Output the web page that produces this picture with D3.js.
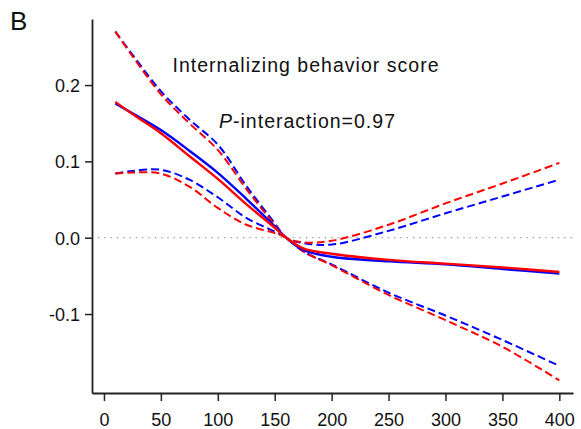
<!DOCTYPE html>
<html>
<head>
<meta charset="utf-8">
<script src="https://cdn.jsdelivr.net/npm/d3@7"></script>
<style>
  html, body { margin: 0; padding: 0; background: #fff; }
  svg { display: block; font-family: "Liberation Sans", Arial, Helvetica, sans-serif; }
</style>
</head>
<body>
<svg id="chart" width="581" height="429"></svg>
<script>
// Exposure values at which the spline curves are evaluated
const xs = [10, 25, 50, 75, 100, 125, 150, 160, 175, 200, 250, 300, 350, 400];

// Group 1 (blue): estimate and 95% CI
const blueEst   = [0.176, 0.163, 0.141, 0.114, 0.085, 0.051, 0.015, 0, -0.016, -0.025, -0.031, -0.035, -0.041, -0.047];
const blueUpper = [0.270, 0.240, 0.192, 0.155, 0.122, 0.068, 0.019, 0, -0.007, -0.009, 0.009, 0.032, 0.054, 0.076];
const blueLower = [0.084, 0.0875, 0.089, 0.076, 0.053, 0.026, 0.008, 0, -0.018, -0.035, -0.072, -0.102, -0.134, -0.168];

// Group 2 (red): estimate and 95% CI
const redEst   = [0.178, 0.162, 0.137, 0.107, 0.077, 0.044, 0.013, 0, -0.014, -0.021, -0.029, -0.034, -0.039, -0.045];
const redUpper = [0.270, 0.238, 0.188, 0.150, 0.115, 0.064, 0.017, 0, -0.006, -0.004, 0.017, 0.045, 0.071, 0.098];
const redLower = [0.084, 0.0855, 0.084, 0.067, 0.039, 0.017, 0.006, 0, -0.018, -0.036, -0.075, -0.108, -0.143, -0.187];

const xTicks = [0, 50, 100, 150, 200, 250, 300, 350, 400];
const yTicks = [-0.1, 0.0, 0.1, 0.2];

const panelLabel = "B";
const titleText = "Internalizing behavior score";
const pLabel = "-interaction=0.97";

const svg = d3.select("#chart");

const x = d3.scaleLinear().domain([-10.5, 412]).range([92, 573]);
const y = d3.scaleLinear().domain([-0.2035, 0.2866]).range([393, 19]);

// reference line at zero
svg.append("line")
  .attr("x1", 98).attr("x2", 573)
  .attr("y1", y(0)).attr("y2", y(0))
  .attr("stroke", "#999").attr("stroke-width", 1.2)
  .attr("stroke-dasharray", "1.3,5");

// axes
const xAxis = svg.append("g").attr("transform", `translate(0,393)`)
  .call(d3.axisBottom(x).tickValues(xTicks).tickSize(8).tickSizeOuter(0).tickPadding(5));
const yAxis = svg.append("g").attr("transform", `translate(92,0)`)
  .call(d3.axisLeft(y).tickValues(yTicks).tickSize(7).tickSizeOuter(0).tickPadding(5)
    .tickFormat(d => d.toFixed(1)));

[xAxis, yAxis].forEach(g => {
  g.select(".domain").attr("stroke", "#222").attr("stroke-width", 1.8);
  g.selectAll(".tick line").attr("stroke", "#222").attr("stroke-width", 1.5);
  g.selectAll(".tick text").attr("fill", "#111").attr("font-size", 18)
    .attr("font-family", "Liberation Sans, Arial, sans-serif");
});
xAxis.selectAll(".tick text").attr("dy", null).attr("y", 33);
yAxis.selectAll(".tick text").attr("x", -12).attr("dy", "0.35em");

// curves
const line = d3.line()
  .x((d, i) => x(xs[i]))
  .y(d => y(d))
  .curve(d3.curveCatmullRom.alpha(0.5));

const series = [
  { v: blueUpper, color: "#0000ff", dash: "8,4", w: 2 },
  { v: blueLower, color: "#0000ff", dash: "8,4", w: 2 },
  { v: redUpper,  color: "#ff0000", dash: "8,4", w: 2 },
  { v: redLower,  color: "#ff0000", dash: "8,4", w: 2 },
  { v: blueEst,   color: "#0000ff", dash: null,  w: 2.4 },
  { v: redEst,    color: "#ff0000", dash: null,  w: 2.4 }
];

svg.append("g").selectAll("path")
  .data(series)
  .join("path")
  .attr("d", d => line(d.v))
  .attr("fill", "none")
  .attr("stroke", d => d.color)
  .attr("stroke-width", d => d.w)
  .attr("stroke-dasharray", d => d.dash);

// panel label and annotations
svg.append("text").attr("x", 10).attr("y", 30)
  .attr("font-size", 26).attr("fill", "#111").text(panelLabel);

svg.append("text").attr("x", 172.5).attr("y", 72)
  .attr("font-size", 19.5).attr("fill", "#111")
  .attr("textLength", 266).attr("lengthAdjust", "spacing")
  .text(titleText);

const p = svg.append("text").attr("x", 219).attr("y", 127.5)
  .attr("font-size", 19.5).attr("fill", "#111")
  .attr("textLength", 176).attr("lengthAdjust", "spacing");
p.append("tspan").attr("font-style", "italic").text("P");
p.append("tspan").text(pLabel);
</script>
</body>
</html>
